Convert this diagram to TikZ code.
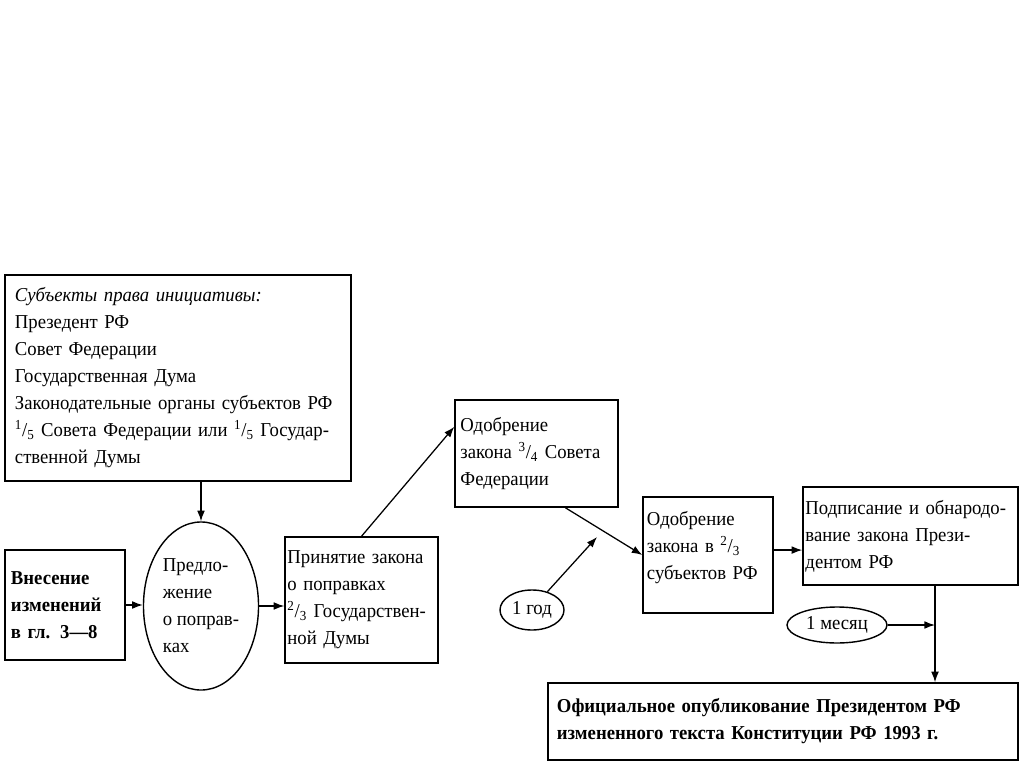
\documentclass[tikz,border=0pt]{standalone}
\usepackage{fontspec}
\setmainfont{Liberation Serif}[FakeStretch=0.95]
\usepackage{tikz}
\usetikzlibrary{positioning, shapes.geometric, arrows.meta, calc}

\newcommand{\drob}[2]{\textsuperscript{#1}/\textsubscript{#2}}

\tikzset{
  box/.style={draw, line width=1pt, align=left, inner sep=0pt},
  oval/.style={draw, ellipse, line width=1pt, align=left, inner sep=0pt},
  bold/.style={font=\fontsize{14}{19.2}\selectfont\bfseries},
  arr/.style={line width=0.9pt, -{Latex[length=7.5pt,width=5.5pt]}}
}

\begin{document}
\begin{tikzpicture}[x=0.025cm, y=-0.025cm, font=\fontsize{14}{19.2}\selectfont]
        \useasboundingbox (0,0) rectangle (1024,767);

        % left part
        \node[box, minimum width=8.65cm, minimum height=5.15cm, text width=8.15cm] (subj) at (178,378)
          {\textit{Субъекты права инициативы:}\\Презедент РФ\\Совет Федерации\\Государственная Дума\\Законодательные органы субъектов РФ\\\drob{1}{5} Совета Федерации или \drob{1}{5} Государ-\\ственной Думы};
        \node[box, bold, minimum width=3cm, minimum height=2.75cm, text width=2.7cm] (vnes) at (65,605)
          {Внесение\\изменений\\в гл. 3—8};
        \node[oval, minimum width=2.875cm, minimum height=4.2cm] (pred) at (201,606)
          {Предло-\\жение\\о поправ-\\ках};
        \node[box, minimum width=3.825cm, minimum height=3.15cm, text width=3.7cm] (prin) at (361.5,600)
          {Принятие закона\\о поправках\\\drob{2}{3} Государствен-\\ной Думы};

        % middle part
        \node[box, minimum width=4.075cm, minimum height=2.675cm, text width=3.8cm] (odob1) at (536.5,453.5)
          {Одобрение\\закона \drob{3}{4} Совета\\Федерации};
        \node[oval, minimum width=1.6cm, minimum height=1cm] (god) at (532,610) {1 год};
        \node[box, minimum width=3.25cm, minimum height=2.9cm, text width=3.05cm] (odob2) at (708,555)
          {Одобрение\\закона в \drob{2}{3}\\субъектов РФ\\[-6pt]\mbox{}};

        % right part
        \node[box, minimum width=5.375cm, minimum height=2.45cm, text width=5.25cm] (podp) at (910.5,536)
          {Подписание и обнародо-\\вание закона Прези-\\дентом РФ};
        \node[oval, minimum width=2.5cm, minimum height=0.9cm] (mes) at (837,625) {1 месяц};
        \node[box, bold, minimum width=11.75cm, minimum height=1.925cm, text width=11.3cm] (opub) at (783,721.5)
          {Официальное опубликование Президентом РФ\\измененного текста Конституции РФ 1993 г.};

        \coordinate (godtip) at (597,537);
        \coordinate (drop) at (935,625);

        % arrows
        \draw[arr] (subj.south -| pred.north) -- (pred.north);
        \draw[arr] (vnes) -- (vnes -| pred.west);
        \draw[arr] (pred.east) -- (pred.east -| prin.west);
        \draw[arr] (prin.north) -- (odob1.162);
        \draw[arr] (odob1.-62) -- (odob2.west);
        \draw[arr] (god.50) -- (godtip);
        \draw[arr] ([yshift=3.5pt]odob2.east) -- ([yshift=3.5pt]odob2.east -| podp.west);
        \draw[arr] (mes) -- (drop);
        \draw[arr] (podp.south -| drop) -- (drop |- opub.north);
\end{tikzpicture}
\end{document}
